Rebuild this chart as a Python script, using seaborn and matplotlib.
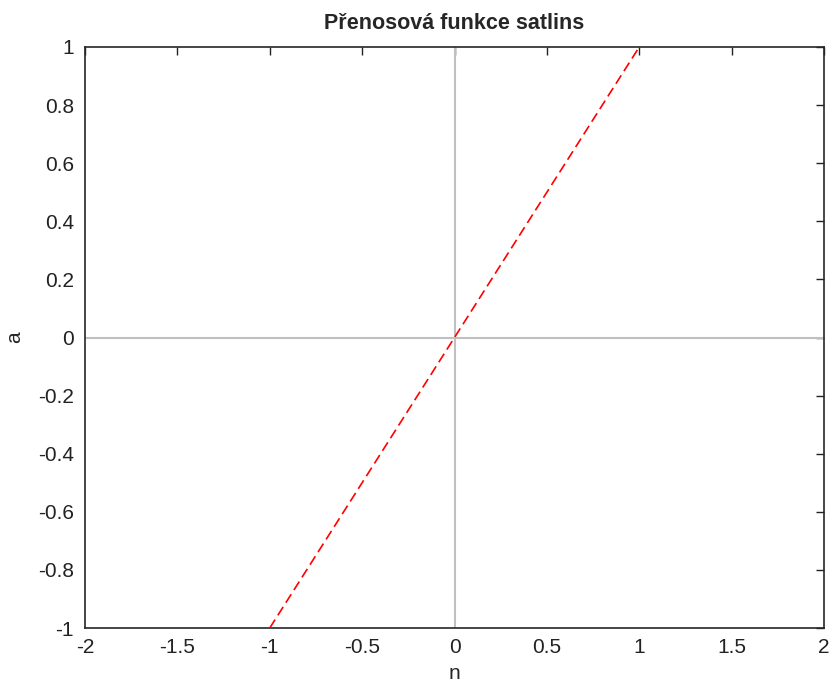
import numpy as np
import seaborn as sns
import pandas as pd
from matplotlib import pyplot as plt

# satlins transfer function, shown over the linear part
n_values = [-1.0, 0.0, 1.0]
a_values = [-1.0, 0.0, 1.0]
x_ticks = [-2, -1.5, -1, -0.5, 0, 0.5, 1, 1.5, 2]
y_ticks = [-1, -0.8, -0.6, -0.4, -0.2, 0, 0.2, 0.4, 0.6, 0.8, 1]

sns.set_style("white")
plt.rcParams["font.family"] = ["Liberation Sans", "DejaVu Sans"]

data = pd.DataFrame({"n": n_values, "a": a_values})

fig = plt.figure(figsize=(8.32, 6.84), dpi=100)
ax = fig.add_axes([85 / 832, 56 / 684, 739 / 832, 581 / 684])

ax.axhline(0, color="#c0c0c0", linewidth=1.5, zorder=1)
ax.axvline(0, color="#c0c0c0", linewidth=1.5, zorder=1)

sns.lineplot(data=data, x="n", y="a", ax=ax, color="red",
             linewidth=1.2, dashes=False, zorder=3)
ax.lines[-1].set_dashes([6, 3])

ax.set_xlim(-2, 2)
ax.set_ylim(-1, 1)
ax.set_xticks(x_ticks)
ax.set_yticks(y_ticks)
ax.set_xticklabels([f"{t:g}" for t in x_ticks])
ax.set_yticklabels([f"{t:g}" for t in y_ticks])
ax.tick_params(direction="in", length=6, width=1, top=True, right=True,
               labelsize=15, colors="#222222", pad=7)
ax.tick_params(axis="y", pad=8)
for s in ax.spines.values():
    s.set_color("#262626")
    s.set_linewidth(1.2)

ax.set_xlabel("n", fontsize=15, labelpad=5)
ax.set_ylabel("a", fontsize=15, labelpad=10)
ax.set_title("Přenosová funkce satlins", fontsize=15.5, fontweight="bold", pad=13)

fig.savefig("out.png", dpi=100)
